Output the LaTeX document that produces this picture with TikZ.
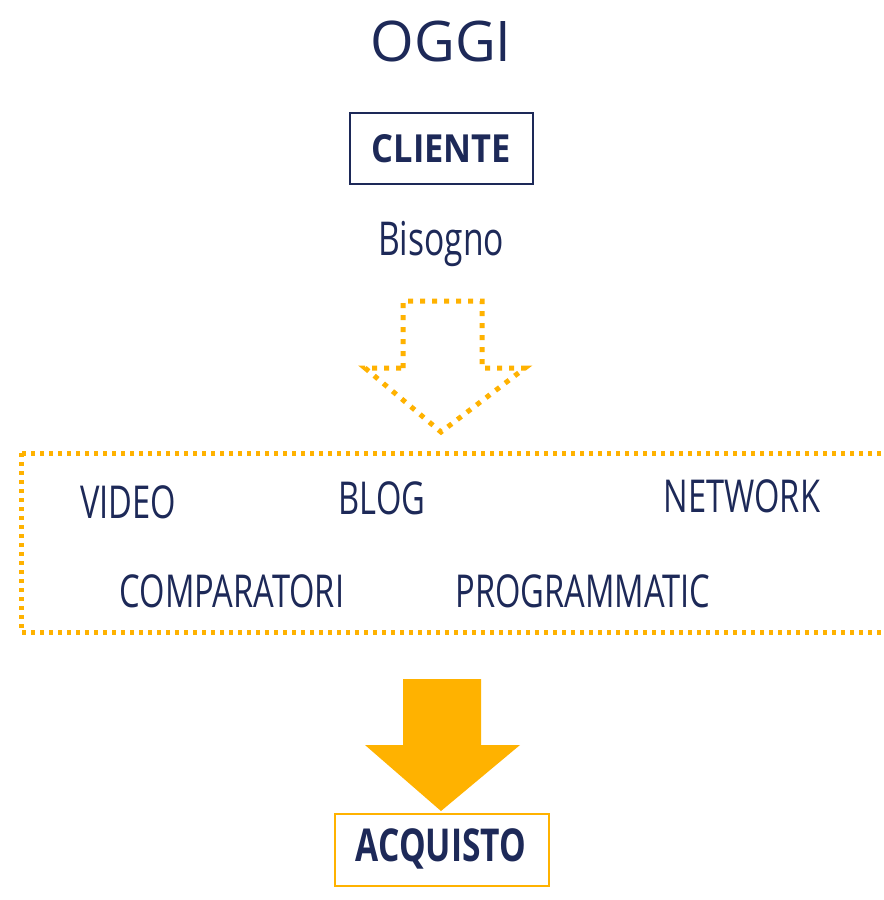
\documentclass[tikz,border=0pt]{standalone}
\usepackage{fontspec}
\setmainfont{Open Sans}
\newfontfamily\condf[FakeStretch=0.72]{Open Sans}
\newfontfamily\condbf[FakeStretch=0.89]{Open Sans Bold}
\newfontfamily\condbfb[FakeStretch=0.74]{Open Sans Bold}
\definecolor{navy}{RGB}{29,41,88}
\definecolor{gold}{RGB}{255,178,0}
\tikzset{
  lbl/.style={text=navy,inner sep=0pt,font=\condf\fontsize{34}{40}\selectfont},
  dotline/.style={draw=gold,line width=3.75pt,dash pattern=on 3.75pt off 5.25pt},
  rectdots/.style={draw=gold,line width=3.75pt,dash pattern=on 3pt off 3.75pt}
}
\begin{document}
\begin{tikzpicture}[x=0.75pt,y=-0.75pt]
\clip (0,0) rectangle (884,900);
\useasboundingbox (0,0) rectangle (884,900);
\fill[white] (0,0) rectangle (884,900);
% title
\node[text=navy,inner sep=0pt,font=\fontsize{42}{48}\selectfont] (oggi) at (441,41) {OGGI};
% cliente
\draw[navy,line width=1.6pt] (350,113) rectangle (533,184);
\node[text=navy,inner sep=0pt,font=\condbf\fontsize{29}{34}\selectfont] (cliente) at (441.5,149) {CLIENTE};
\node[lbl,font=\condf\fontsize{35}{40}\selectfont,anchor=base] (bisogno) at (441,255) {Bisogno};
% dotted arrow
\draw[dotline] (403,368) -- (403,301) -- (482,301) -- (482,368) -- (525,368) -- (441,432) -- (365,368) -- cycle;
% dotted rectangle
\draw[rectdots] (21,453) rectangle (920,632);
\node[lbl,anchor=base] (video) at (128,518) {VIDEO};
\node[lbl,anchor=base] (blog) at (382,514) {BLOG};
\node[lbl,anchor=base] (network) at (742,512) {NETWORK};
\node[lbl,anchor=base] (comp) at (232,607) {COMPARATORI};
\node[lbl,anchor=base] (prog) at (583,607) {PROGRAMMATIC};
% solid arrow
\fill[gold] (403,679) -- (481,679) -- (481,745) -- (520,745) -- (441,811) -- (365,745) -- (403,745) -- cycle;
% acquisto
\draw[gold,line width=1.6pt] (335,814) rectangle (549,886);
\node[text=navy,inner sep=0pt,font=\condbfb\fontsize{34}{40}\selectfont] (acq) at (441,849) {ACQUISTO};
\end{tikzpicture}
\end{document}
